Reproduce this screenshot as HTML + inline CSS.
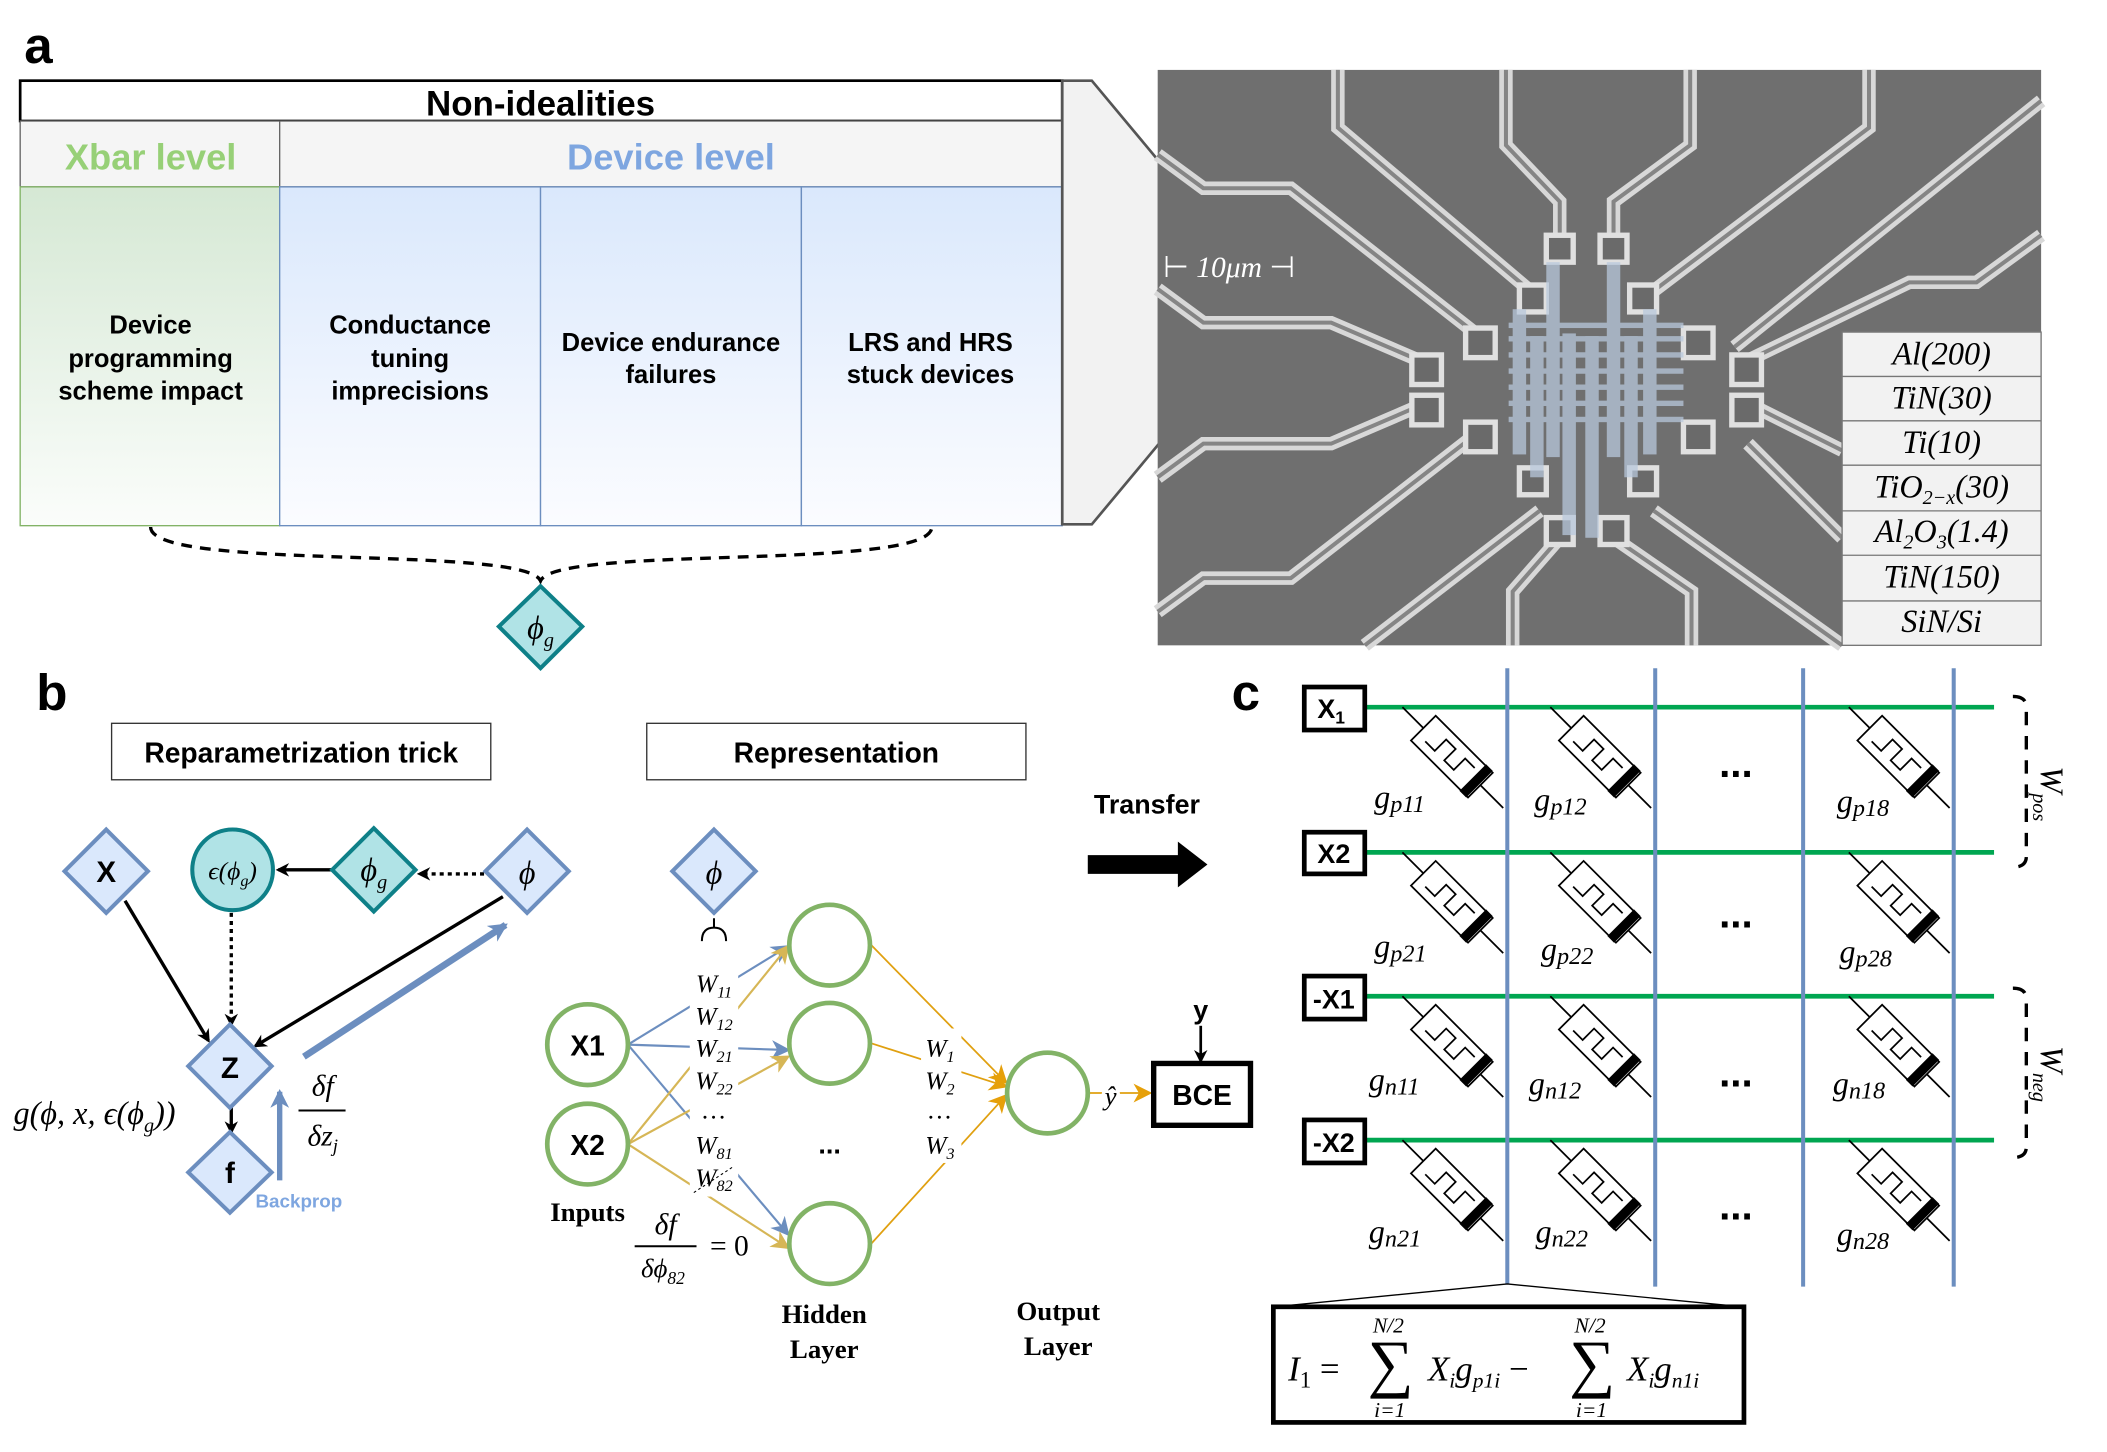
<!DOCTYPE html>
<html><head><meta charset="utf-8"><style>
html,body{margin:0;padding:0;background:#fff;}
svg{display:block;}
.s{font-family:"Liberation Sans",sans-serif;font-weight:bold;}
.m{font-family:"Liberation Serif",serif;font-style:italic;}
.r{font-family:"Liberation Serif",serif;}
</style></head><body>
<svg width="2107" height="1452" viewBox="0 0 1567 1080" preserveAspectRatio="none" xmlns="http://www.w3.org/2000/svg">
<defs>
<linearGradient id="gg" x1="0" y1="0" x2="0" y2="1"><stop offset="0" stop-color="#d5e8d4"/><stop offset="1" stop-color="#fbfdfb"/></linearGradient>
<linearGradient id="bg" x1="0" y1="0" x2="0" y2="1"><stop offset="0" stop-color="#dae8fc"/><stop offset="1" stop-color="#fbfcff"/></linearGradient>
<marker id="ak" markerWidth="10" markerHeight="10" refX="8" refY="5" orient="auto" markerUnits="userSpaceOnUse"><path d="M0,0 L10,5 L0,10 L3,5z" fill="#000"/></marker>
<marker id="ab" markerWidth="14" markerHeight="14" refX="12" refY="7" orient="auto" markerUnits="userSpaceOnUse"><path d="M0,0 L14,7 L0,14 L4,7z" fill="#6c8ebf"/></marker>
<marker id="ao" markerWidth="14" markerHeight="14" refX="12" refY="7" orient="auto" markerUnits="userSpaceOnUse"><path d="M0,0 L14,7 L0,14 L4,7z" fill="#d6b656"/></marker>
<marker id="ao2" markerWidth="14" markerHeight="14" refX="12" refY="7" orient="auto" markerUnits="userSpaceOnUse"><path d="M0,0 L14,7 L0,14 L4,7z" fill="#e6a00a"/></marker>
<g id="mem">
<line x1="0" y1="0" x2="106" y2="0" stroke="#000" stroke-width="1.3"/>
<rect x="22" y="-13" width="60" height="26" fill="#fff" stroke="#000" stroke-width="1.3"/>
<path d="M30,6 L40,6 L40,-6 L50,-6 L50,6 L60,6 L60,-6 L70,-6" fill="none" stroke="#000" stroke-width="1.3"/>
<rect x="74" y="-14" width="7" height="28" fill="#000"/>
</g>
</defs>

<!-- Panel a -->
<text x="18" y="47" class="s" font-size="38">a</text>
<rect x="15" y="60" width="775" height="30" fill="#fff" stroke="#000" stroke-width="2"/>
<text x="402" y="86" class="s" font-size="26" text-anchor="middle">Non-idealities</text>
<rect x="15" y="90" width="775" height="49" fill="#f5f5f5" stroke="#666" stroke-width="1"/>
<line x1="208" y1="90" x2="208" y2="139" stroke="#666"/>
<text x="112" y="126" class="s" font-size="27" fill="#97d077" text-anchor="middle">Xbar level</text>
<text x="499" y="126" class="s" font-size="27" fill="#7ea6e0" text-anchor="middle">Device level</text>
<rect x="15" y="139" width="193" height="252" fill="url(#gg)" stroke="#82b366"/>
<rect x="208" y="139" width="194" height="252" fill="url(#bg)" stroke="#6c8ebf"/>
<rect x="402" y="139" width="194" height="252" fill="url(#bg)" stroke="#6c8ebf"/>
<rect x="596" y="139" width="194" height="252" fill="url(#bg)" stroke="#6c8ebf"/>
<g class="s" font-size="19" text-anchor="middle">
<text x="112" y="248">Device</text><text x="112" y="273">programming</text><text x="112" y="297">scheme impact</text>
<text x="305" y="248">Conductance</text><text x="305" y="273">tuning</text><text x="305" y="297">imprecisions</text>
<text x="499" y="261">Device endurance</text><text x="499" y="285">failures</text>
<text x="692" y="261">LRS and HRS</text><text x="692" y="285">stuck devices</text>
</g>
<path d="M790,60 L812,60 L862,120 L862,330 L812,390 L790,390 Z" fill="#f2f2f2" stroke="#555" stroke-width="2"/>
<path d="M112,392 C112,425 390,405 402,432 C414,405 693,425 693,392" fill="none" stroke="#000" stroke-width="2.5" stroke-dasharray="8,6"/>
<path d="M402,436 L433,466 L402,497 L371,466 Z" fill="#b0e3e6" stroke="#0e8088" stroke-width="3"/>
<text x="402" y="475" class="m" font-size="24" text-anchor="middle">ϕ<tspan font-size="15" dy="6">g</tspan></text>

<!-- SEM image -->
<rect x="861" y="52" width="657" height="428" fill="#6f6f6f"/>
<g fill="none" stroke-linejoin="miter">
<g stroke="#d8d8d8" stroke-width="10">
<path d="M995,52 L995,95 L1140,218"/>
<path d="M1120,52 L1120,108 L1160,150 L1160,185"/>
<path d="M1257,52 L1257,108 L1200,150 L1200,185"/>
<path d="M1390,52 L1390,95 L1225,220"/>
<path d="M1518,75 L1290,258"/>
<path d="M1518,175 L1470,210 L1420,210 L1300,268"/>
<path d="M861,115 L895,140 L960,140 L1100,250"/>
<path d="M861,215 L895,240 L990,240 L1060,270"/>
<path d="M861,355 L895,330 L990,330 L1060,300"/>
<path d="M861,455 L895,430 L960,430 L1095,325"/>
<path d="M1015,480 L1145,380"/>
<path d="M1125,480 L1125,440 L1160,400"/>
<path d="M1258,480 L1258,440 L1200,400"/>
<path d="M1370,480 L1230,380"/>
<path d="M1370,400 L1300,330"/>
<path d="M1370,335 L1300,300"/>
</g>
<g stroke="#858585" stroke-width="3">
<path d="M995,52 L995,95 L1140,218"/>
<path d="M1120,52 L1120,108 L1160,150 L1160,185"/>
<path d="M1257,52 L1257,108 L1200,150 L1200,185"/>
<path d="M1390,52 L1390,95 L1225,220"/>
<path d="M1518,75 L1290,258"/>
<path d="M1518,175 L1470,210 L1420,210 L1300,268"/>
<path d="M861,115 L895,140 L960,140 L1100,250"/>
<path d="M861,215 L895,240 L990,240 L1060,270"/>
<path d="M861,355 L895,330 L990,330 L1060,300"/>
<path d="M861,455 L895,430 L960,430 L1095,325"/>
<path d="M1015,480 L1145,380"/>
<path d="M1125,480 L1125,440 L1160,400"/>
<path d="M1258,480 L1258,440 L1200,400"/>
<path d="M1370,480 L1230,380"/>
<path d="M1370,400 L1300,330"/>
<path d="M1370,335 L1300,300"/>
</g>
</g>
<g fill="#6a6a6a" stroke="#e0e0e0" stroke-width="4">
<rect x="1150" y="175" width="20" height="20"/><rect x="1190" y="175" width="20" height="20"/>
<rect x="1130" y="212" width="20" height="20"/><rect x="1212" y="212" width="20" height="20"/>
<rect x="1090" y="244" width="22" height="22"/><rect x="1252" y="244" width="22" height="22"/>
<rect x="1050" y="264" width="22" height="22"/><rect x="1288" y="264" width="22" height="22"/>
<rect x="1050" y="294" width="22" height="22"/><rect x="1288" y="294" width="22" height="22"/>
<rect x="1090" y="314" width="22" height="22"/><rect x="1252" y="314" width="22" height="22"/>
<rect x="1130" y="348" width="20" height="20"/><rect x="1212" y="348" width="20" height="20"/>
<rect x="1150" y="385" width="20" height="20"/><rect x="1190" y="385" width="20" height="20"/>
</g>
<g fill="#b8c8dc" opacity="0.75">
<rect x="1122" y="240" width="130" height="4"/><rect x="1122" y="250" width="130" height="4"/><rect x="1122" y="262" width="130" height="4"/>
<rect x="1122" y="274" width="130" height="4"/><rect x="1122" y="286" width="130" height="4"/><rect x="1122" y="298" width="130" height="4"/>
<rect x="1122" y="310" width="130" height="4"/>
<rect x="1125" y="230" width="10" height="108"/><rect x="1138" y="250" width="10" height="105"/><rect x="1150" y="195" width="10" height="145"/>
<rect x="1162" y="248" width="10" height="150"/><rect x="1179" y="250" width="10" height="150"/><rect x="1195" y="195" width="10" height="145"/>
<rect x="1208" y="250" width="10" height="105"/><rect x="1222" y="230" width="10" height="108"/>
</g>
<text x="865" y="206" font-size="22" fill="#fff" class="r">⊢ <tspan class="m">10μm</tspan> ⊣</text>
<g class="m" font-size="24" text-anchor="middle">
<rect x="1370" y="247" width="148" height="233" fill="#f2f2f2" stroke="#777"/>
<line x1="1370" y1="280" x2="1518" y2="280" stroke="#777"/><line x1="1370" y1="313" x2="1518" y2="313" stroke="#777"/>
<line x1="1370" y1="346" x2="1518" y2="346" stroke="#777"/><line x1="1370" y1="380" x2="1518" y2="380" stroke="#777"/>
<line x1="1370" y1="413" x2="1518" y2="413" stroke="#777"/><line x1="1370" y1="447" x2="1518" y2="447" stroke="#777"/>
<text x="1444" y="271">Al(200)</text><text x="1444" y="304">TiN(30)</text><text x="1444" y="337">Ti(10)</text>
<text x="1444" y="370">TiO<tspan font-size="15" dy="5">2−x</tspan><tspan dy="-5">(30)</tspan></text>
<text x="1444" y="403">Al<tspan font-size="15" dy="5">2</tspan><tspan dy="-5">O</tspan><tspan font-size="15" dy="5">3</tspan><tspan dy="-5">(1.4)</tspan></text>
<text x="1444" y="437">TiN(150)</text><text x="1444" y="470">SiN/Si</text>
</g>

<!-- Panel b -->
<text x="27" y="528" class="s" font-size="38">b</text>
<rect x="83" y="538" width="282" height="42" fill="#fff" stroke="#333"/>
<text x="224" y="567" class="s" font-size="21" text-anchor="middle">Reparametrization trick</text>
<rect x="481" y="538" width="282" height="42" fill="#fff" stroke="#333"/>
<text x="622" y="567" class="s" font-size="21" text-anchor="middle">Representation</text>

<g stroke-width="2.5">
<line x1="93" y1="670" x2="155" y2="774" stroke="#000" marker-end="url(#ak)"/>
<line x1="374" y1="667" x2="190" y2="778" stroke="#000" marker-end="url(#ak)"/>
<line x1="248" y1="647" x2="207" y2="647" stroke="#000" marker-end="url(#ak)"/>
<line x1="360" y1="650" x2="312" y2="650" stroke="#000" stroke-dasharray="3,3" marker-end="url(#ak)"/>
<line x1="172" y1="679" x2="172" y2="762" stroke="#000" stroke-dasharray="3,3" marker-end="url(#ak)"/>
<line x1="172" y1="823" x2="172" y2="842" stroke="#000" marker-end="url(#ak)"/>
</g>
<line x1="226" y1="786" x2="376" y2="688" stroke="#6c8ebf" stroke-width="5" marker-end="url(#ab)"/>
<line x1="208" y1="878" x2="208" y2="812" stroke="#6c8ebf" stroke-width="4" marker-end="url(#ab)"/>

<g fill="#dae8fc" stroke="#6c8ebf" stroke-width="3">
<path d="M79,617 L110,648 L79,679 L48,648Z"/>
<path d="M392,617 L423,648 L392,679 L361,648Z"/>
<path d="M171,762 L202,793 L171,824 L140,793Z"/>
<path d="M171,842 L202,872 L171,902 L140,872Z"/>
<path d="M531,617 L562,648 L531,679 L500,648Z"/>
</g>
<circle cx="173" cy="647" r="30" fill="#b0e3e6" stroke="#0e8088" stroke-width="3"/>
<path d="M278,616 L309,647 L278,678 L247,647Z" fill="#b0e3e6" stroke="#0e8088" stroke-width="3"/>
<text x="79" y="656" class="s" font-size="22" text-anchor="middle">X</text>
<text x="171" y="802" class="s" font-size="22" text-anchor="middle">Z</text>
<text x="171" y="880" class="s" font-size="22" text-anchor="middle">f</text>
<text x="392" y="657" class="m" font-size="24" text-anchor="middle">ϕ</text>
<text x="531" y="657" class="m" font-size="24" text-anchor="middle">ϕ</text>
<text x="278" y="655" class="m" font-size="24" text-anchor="middle">ϕ<tspan font-size="15" dy="6">g</tspan></text>
<text x="173" y="654" class="m" font-size="19" text-anchor="middle">ϵ(ϕ<tspan font-size="12" dy="5">g</tspan><tspan dy="-5">)</tspan></text>
<text x="10" y="836" class="m" font-size="24">g(ϕ, x, ϵ(ϕ<tspan font-size="15" dy="6">g</tspan><tspan dy="-6">))</tspan></text>
<text x="240" y="815" class="m" font-size="22" text-anchor="middle">δf</text>
<line x1="222" y1="826" x2="257" y2="826" stroke="#000" stroke-width="1.5"/>
<text x="240" y="852" class="m" font-size="22" text-anchor="middle">δz<tspan font-size="14" dy="5">j</tspan></text>
<text x="190" y="898" class="s" font-size="14" fill="#7ea6e0">Backprop</text>

<!-- network -->
<path d="M522,700 Q522,690 531,690 Q540,690 540,700 M531,690 L531,683" fill="none" stroke="#000" stroke-width="1.5"/>
<g stroke="#6c8ebf" stroke-width="1.6" fill="none">
<line x1="467" y1="777" x2="586" y2="704" marker-end="url(#ab)"/>
<line x1="467" y1="777" x2="586" y2="781" marker-end="url(#ab)"/>
<line x1="467" y1="777" x2="586" y2="918" marker-end="url(#ab)"/>
</g>
<g stroke="#d6b656" stroke-width="1.6" fill="none">
<line x1="467" y1="851" x2="586" y2="704" marker-end="url(#ao)"/>
<line x1="467" y1="851" x2="586" y2="786" marker-end="url(#ao)"/>
<line x1="467" y1="851" x2="586" y2="928" marker-end="url(#ao)"/>
</g>
<g stroke="#e0a010" stroke-width="1.3" fill="none">
<line x1="648" y1="703" x2="748" y2="805" marker-end="url(#ao2)"/>
<line x1="648" y1="776" x2="748" y2="808" marker-end="url(#ao2)"/>
<line x1="648" y1="925" x2="748" y2="815" marker-end="url(#ao2)"/>
<line x1="810" y1="813" x2="855" y2="813" marker-end="url(#ao2)"/>
</g>
<g font-size="19" class="m" text-anchor="middle">
<rect x="513" y="720" width="36" height="170" fill="#fff"/>
<text x="531" y="738" fill="#000">W<tspan font-size="12" dy="4">11</tspan></text>
<text x="531" y="762" fill="#000">W<tspan font-size="12" dy="4">12</tspan></text>
<text x="531" y="786" fill="#000">W<tspan font-size="12" dy="4">21</tspan></text>
<text x="531" y="810" fill="#000">W<tspan font-size="12" dy="4">22</tspan></text>
<text x="531" y="832" fill="#000">…</text>
<text x="531" y="858" fill="#000">W<tspan font-size="12" dy="4">81</tspan></text>
<text x="531" y="882" fill="#000">W<tspan font-size="12" dy="4">82</tspan></text>
<rect x="685" y="765" width="30" height="100" fill="#fff"/>
<text x="699" y="786" fill="#000">W<tspan font-size="12" dy="4">1</tspan></text>
<text x="699" y="810" fill="#000">W<tspan font-size="12" dy="4">2</tspan></text>
<text x="699" y="832" fill="#000">…</text>
<text x="699" y="858" fill="#000">W<tspan font-size="12" dy="4">3</tspan></text>
</g>
<line x1="516" y1="887" x2="545" y2="868" stroke="#000" stroke-width="0.8" stroke-dasharray="2,2"/>
<g fill="#fff" stroke="#82b366" stroke-width="3.5">
<circle cx="437" cy="777" r="30"/><circle cx="437" cy="851" r="30"/>
<circle cx="617" cy="703" r="30"/><circle cx="617" cy="776" r="30"/><circle cx="617" cy="925" r="30"/>
<circle cx="779" cy="813" r="30"/>
</g>
<text x="437" y="785" class="s" font-size="21" text-anchor="middle">X1</text>
<text x="437" y="859" class="s" font-size="21" text-anchor="middle">X2</text>
<text x="617" y="858" class="s" font-size="20" text-anchor="middle">...</text>
<text x="826" y="822" class="m" font-size="20" text-anchor="middle" fill="#000" style="paint-order:stroke" stroke="#fff" stroke-width="5">ŷ</text>
<g class="r" font-size="20" font-weight="bold" text-anchor="middle">
<text x="437" y="908">Inputs</text>
<text x="613" y="984">Hidden</text><text x="613" y="1010">Layer</text>
<text x="787" y="982">Output</text><text x="787" y="1008">Layer</text>
</g>
<text x="495" y="918" class="m" font-size="22" text-anchor="middle">δf</text>
<line x1="472" y1="927" x2="518" y2="927" stroke="#000" stroke-width="1.5"/>
<text x="493" y="950" class="m" font-size="20" text-anchor="middle">δϕ<tspan font-size="13" dy="5">82</tspan></text>
<text x="528" y="934" class="r" font-size="22">= 0</text>
<rect x="858" y="791" width="72" height="46" fill="#fff" stroke="#000" stroke-width="4"/>
<text x="894" y="822" class="s" font-size="21" text-anchor="middle">BCE</text>
<text x="893" y="758" class="s" font-size="20" text-anchor="middle">y</text>
<line x1="893" y1="763" x2="893" y2="789" stroke="#000" stroke-width="2" marker-end="url(#ak)"/>
<text x="853" y="605" class="s" font-size="20" text-anchor="middle">Transfer</text>
<path d="M809,636 L876,636 L876,626 L898,643 L876,660 L876,650 L809,650Z" fill="#000"/>

<!-- Panel c -->
<text x="916" y="528" class="s" font-size="38">c</text>
<g stroke="#00a651" stroke-width="3.5">
<line x1="1015" y1="526" x2="1483" y2="526"/><line x1="1015" y1="634" x2="1483" y2="634"/>
<line x1="1015" y1="741" x2="1483" y2="741"/><line x1="1015" y1="848" x2="1483" y2="848"/>
</g>
<g stroke="#6c8ebf" stroke-width="3">
<line x1="1121" y1="497" x2="1121" y2="955"/><line x1="1231" y1="497" x2="1231" y2="957"/>
<line x1="1341" y1="497" x2="1341" y2="957"/><line x1="1453" y1="497" x2="1453" y2="957"/>
</g>
<g>
<use href="#mem" transform="translate(1043,526) rotate(45)"/><use href="#mem" transform="translate(1153,526) rotate(45)"/><use href="#mem" transform="translate(1375,526) rotate(45)"/>
<use href="#mem" transform="translate(1043,634) rotate(45)"/><use href="#mem" transform="translate(1153,634) rotate(45)"/><use href="#mem" transform="translate(1375,634) rotate(45)"/>
<use href="#mem" transform="translate(1043,741) rotate(45)"/><use href="#mem" transform="translate(1153,741) rotate(45)"/><use href="#mem" transform="translate(1375,741) rotate(45)"/>
<use href="#mem" transform="translate(1043,848) rotate(45)"/><use href="#mem" transform="translate(1153,848) rotate(45)"/><use href="#mem" transform="translate(1375,848) rotate(45)"/>
</g>
<g class="s" font-size="30" text-anchor="middle">
<text x="1291" y="578">...</text><text x="1291" y="690">...</text><text x="1291" y="808">...</text><text x="1291" y="907">...</text>
</g>
<g fill="#fff" stroke="#000" stroke-width="3.5">
<rect x="970" y="511" width="45" height="32"/><rect x="970" y="619" width="45" height="31"/>
<rect x="970" y="726" width="45" height="32"/><rect x="970" y="833" width="45" height="32"/>
</g>
<g class="s" font-size="20" text-anchor="middle">
<text x="990" y="534">X<tspan font-size="13" dy="4">1</tspan></text><text x="992" y="642">X2</text>
<text x="992" y="750">-X1</text><text x="992" y="857">-X2</text>
</g>
<g class="m" font-size="24">
<text x="1022" y="601">g<tspan font-size="18" dy="3">p11</tspan></text><text x="1141" y="603">g<tspan font-size="18" dy="3">p12</tspan></text><text x="1366" y="604">g<tspan font-size="18" dy="3">p18</tspan></text>
<text x="1022" y="712">g<tspan font-size="18" dy="3">p21</tspan></text><text x="1146" y="714">g<tspan font-size="18" dy="3">p22</tspan></text><text x="1368" y="716">g<tspan font-size="18" dy="3">p28</tspan></text>
<text x="1018" y="811">g<tspan font-size="18" dy="3">n11</tspan></text><text x="1137" y="814">g<tspan font-size="18" dy="3">n12</tspan></text><text x="1363" y="814">g<tspan font-size="18" dy="3">n18</tspan></text>
<text x="1018" y="924">g<tspan font-size="18" dy="3">n21</tspan></text><text x="1142" y="924">g<tspan font-size="18" dy="3">n22</tspan></text><text x="1366" y="926">g<tspan font-size="18" dy="3">n28</tspan></text>
</g>
<path d="M1497,518 Q1507,518 1507,526 L1507,637 Q1507,645 1497,645" fill="none" stroke="#000" stroke-width="2.5" stroke-dasharray="10,8"/>
<path d="M1497,735 Q1507,735 1507,743 L1507,853 Q1507,861 1497,861" fill="none" stroke="#000" stroke-width="2.5" stroke-dasharray="10,8"/>
<text class="m" font-size="24" transform="translate(1518,570) rotate(90)">W<tspan font-size="15" dy="6">pos</tspan></text>
<text class="m" font-size="24" transform="translate(1518,778) rotate(90)">W<tspan font-size="15" dy="6">neg</tspan></text>
<path d="M948,972 L1121,955 L1296,972" fill="none" stroke="#000" stroke-width="1"/>
<rect x="947" y="972" width="350" height="86" fill="#fff" stroke="#000" stroke-width="3.5"/>
<g class="m" font-size="26">
<text x="958" y="1027">I<tspan font-size="17" dy="5" class="r" font-style="normal">1</tspan><tspan dy="-5" font-style="normal"> =</tspan></text>
<text x="1017" y="1030" class="r" font-style="normal" font-size="48">∑</text>
<text x="1021" y="991" font-size="16">N/2</text><text x="1022" y="1054" font-size="16">i=1</text>
<text x="1062" y="1027">X<tspan font-size="16" dy="5">i</tspan><tspan dy="-5">g</tspan><tspan font-size="16" dy="5">p1i</tspan><tspan dy="-5" font-style="normal"> −</tspan></text>
<text x="1167" y="1030" class="r" font-style="normal" font-size="48">∑</text>
<text x="1171" y="991" font-size="16">N/2</text><text x="1172" y="1054" font-size="16">i=1</text>
<text x="1210" y="1027">X<tspan font-size="16" dy="5">i</tspan><tspan dy="-5">g</tspan><tspan font-size="16" dy="5">n1i</tspan></text>
</g>
</svg>
</body></html>
